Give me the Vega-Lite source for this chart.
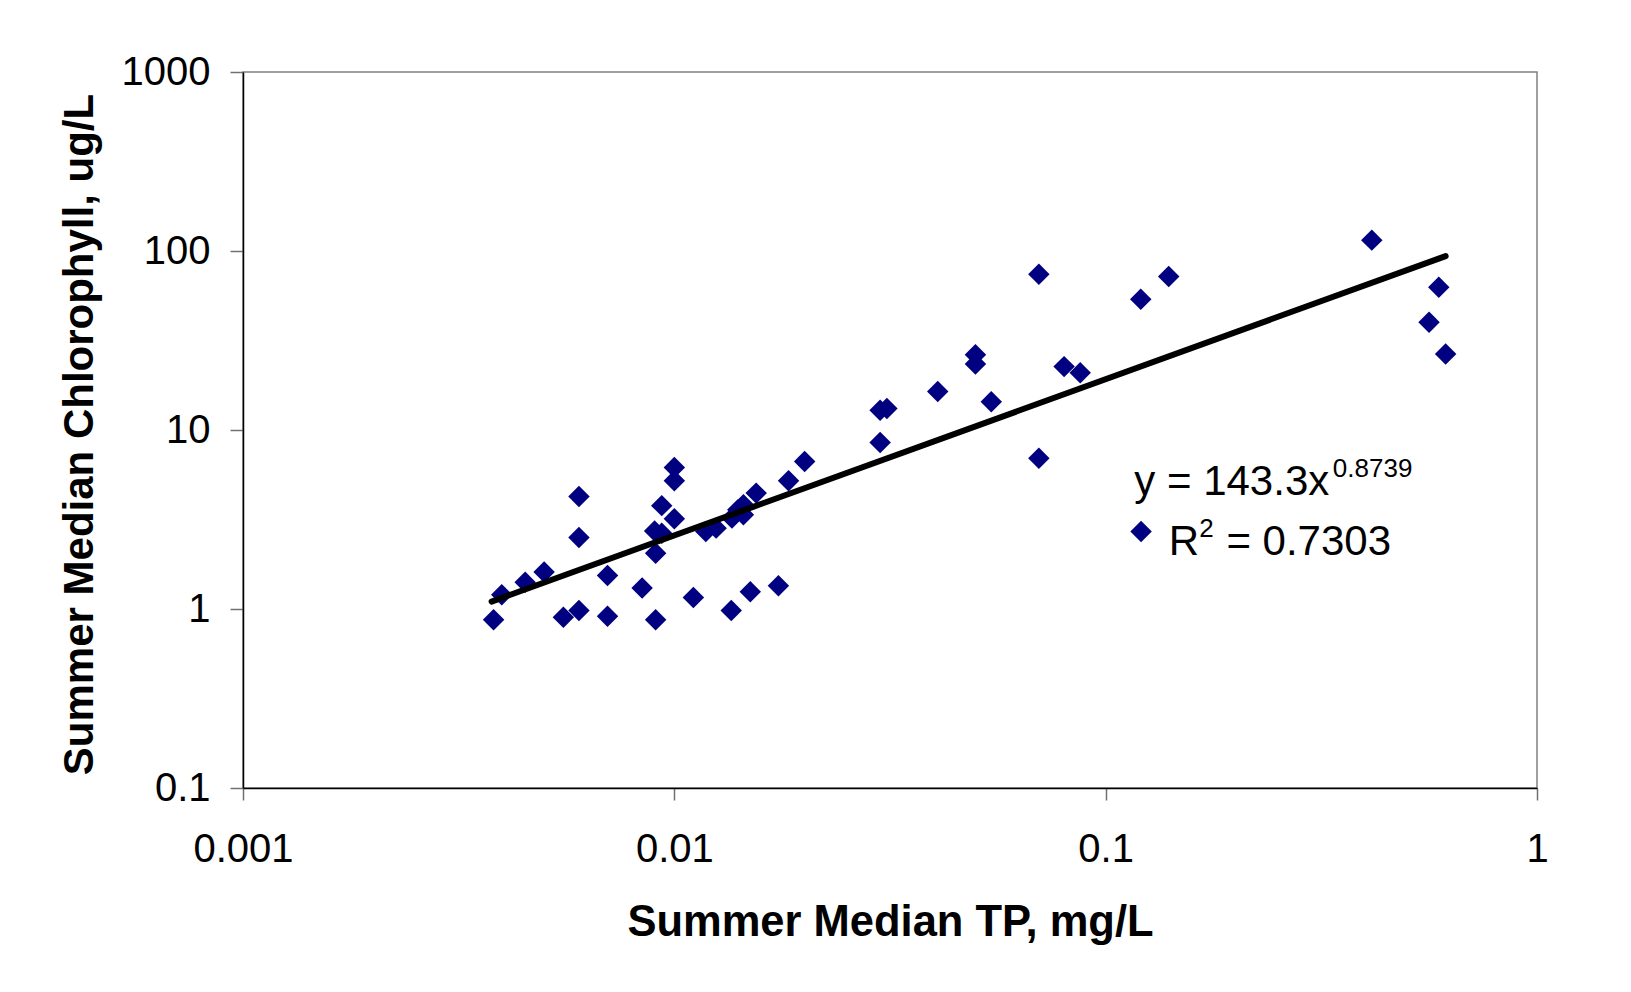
{
  "$schema": "https://vega.github.io/schema/vega-lite/v6.json",
  "width": 1294,
  "height": 716,
  "autosize": {"type": "none"},
  "padding": {"left": 243, "top": 72, "right": 94, "bottom": 204},
  "background": "white",
  "config": {
    "font": "Liberation Sans",
    "view": {"stroke": "#808080", "strokeWidth": 1.5},
    "axis": {
      "labelFont": "Liberation Sans",
      "titleFont": "Liberation Sans",
      "labelColor": "black",
      "titleColor": "black",
      "grid": false,
      "domainColor": "black",
      "domainWidth": 1.5,
      "tickColor": "#707070",
      "tickWidth": 1.5,
      "labelFontSize": 40,
      "titleFontSize": 42,
      "titleFontWeight": "bold",
      "labelOverlap": false,
      "labelFlush": false,
      "labelBound": false
    }
  },
  "datasets": {
    "points": [
      {"tp": 0.00381, "chl": 0.87},
      {"tp": 0.00398, "chl": 1.20},
      {"tp": 0.00451, "chl": 1.41},
      {"tp": 0.00499, "chl": 1.61},
      {"tp": 0.00553, "chl": 0.90},
      {"tp": 0.00601, "chl": 0.98},
      {"tp": 0.00601, "chl": 4.25},
      {"tp": 0.00601, "chl": 2.51},
      {"tp": 0.00700, "chl": 1.54},
      {"tp": 0.00700, "chl": 0.91},
      {"tp": 0.00842, "chl": 1.31},
      {"tp": 0.00905, "chl": 0.87},
      {"tp": 0.00905, "chl": 2.05},
      {"tp": 0.00900, "chl": 2.73},
      {"tp": 0.00935, "chl": 2.65},
      {"tp": 0.00935, "chl": 3.78},
      {"tp": 0.0100, "chl": 6.17},
      {"tp": 0.0100, "chl": 5.20},
      {"tp": 0.0100, "chl": 3.19},
      {"tp": 0.01107, "chl": 1.16},
      {"tp": 0.01183, "chl": 2.71},
      {"tp": 0.0125, "chl": 2.83},
      {"tp": 0.01355, "chl": 0.98},
      {"tp": 0.0136, "chl": 3.22},
      {"tp": 0.01403, "chl": 3.58},
      {"tp": 0.01446, "chl": 3.82},
      {"tp": 0.01446, "chl": 3.36},
      {"tp": 0.0150, "chl": 1.25},
      {"tp": 0.01548, "chl": 4.44},
      {"tp": 0.01743, "chl": 1.35},
      {"tp": 0.0184, "chl": 5.20},
      {"tp": 0.02005, "chl": 6.66},
      {"tp": 0.0300, "chl": 12.9},
      {"tp": 0.0311, "chl": 13.2},
      {"tp": 0.0300, "chl": 8.51},
      {"tp": 0.0408, "chl": 16.4},
      {"tp": 0.0499, "chl": 26.3},
      {"tp": 0.0499, "chl": 23.4},
      {"tp": 0.0543, "chl": 14.4},
      {"tp": 0.0700, "chl": 74.1},
      {"tp": 0.0700, "chl": 6.96},
      {"tp": 0.0801, "chl": 22.6},
      {"tp": 0.0873, "chl": 20.9},
      {"tp": 0.1206, "chl": 53.7},
      {"tp": 0.140, "chl": 72.1},
      {"tp": 0.414, "chl": 115},
      {"tp": 0.592, "chl": 62.7},
      {"tp": 0.562, "chl": 40.0},
      {"tp": 0.614, "chl": 26.6}
    ],
    "trend": [
      {"tp": 0.00377, "chl": 1.10},
      {"tp": 0.614, "chl": 93.7}
    ],
    "legendSymbol": [
      {"tp": 0.1208, "chl": 2.709}
    ],
    "bigText": [
      {"label": "y = 143.3x", "tp": 0.1165, "chl": 4.342},
      {"label": "R", "tp": 0.1401, "chl": 2.007},
      {"label": "= 0.7303", "tp": 0.1905, "chl": 2.007}
    ],
    "supText": [
      {"label": "0.8739", "tp": 0.3363, "chl": 5.473},
      {"label": "2", "tp": 0.1648, "chl": 2.530}
    ]
  },
  "layer": [
    {
      "data": {"name": "points"},
      "mark": {"type": "point", "shape": "diamond", "filled": true, "color": "#000080", "opacity": 1, "size": 460},
      "encoding": {
        "x": {
          "field": "tp", "type": "quantitative",
          "scale": {"type": "log", "domain": [0.001, 1], "nice": false},
          "axis": {
            "title": "Summer Median TP, mg/L",
            "values": [0.001, 0.01, 0.1, 1],
            "format": "~g",
            "tickSize": 12,
            "labelPadding": 29,
            "titleFontSize": 43.5,
            "titleBaseline": "alphabetic",
            "titleY": 147
          }
        },
        "y": {
          "field": "chl", "type": "quantitative",
          "scale": {"type": "log", "domain": [0.1, 1000], "nice": false},
          "axis": {
            "title": "Summer Median Chlorophyll, ug/L",
            "values": [0.1, 1, 10, 100, 1000],
            "format": "~g",
            "tickSize": 13,
            "labelPadding": 20,
            "titleBaseline": "alphabetic",
            "titleX": -151,
            "titleY": 362
          }
        }
      }
    },
    {
      "data": {"name": "trend"},
      "mark": {"type": "line", "color": "black", "strokeWidth": 6, "strokeCap": "round"},
      "encoding": {
        "x": {"field": "tp", "type": "quantitative"},
        "y": {"field": "chl", "type": "quantitative"}
      }
    },
    {
      "data": {"name": "legendSymbol"},
      "mark": {"type": "point", "shape": "diamond", "filled": true, "color": "#000080", "opacity": 1, "size": 460},
      "encoding": {
        "x": {"field": "tp", "type": "quantitative"},
        "y": {"field": "chl", "type": "quantitative"}
      }
    },
    {
      "data": {"name": "bigText"},
      "mark": {"type": "text", "align": "left", "baseline": "alphabetic", "fontSize": 42, "font": "Liberation Sans", "color": "black"},
      "encoding": {
        "x": {"field": "tp", "type": "quantitative"},
        "y": {"field": "chl", "type": "quantitative"},
        "text": {"field": "label"}
      }
    },
    {
      "data": {"name": "supText"},
      "mark": {"type": "text", "align": "left", "baseline": "alphabetic", "fontSize": 26, "font": "Liberation Sans", "color": "black"},
      "encoding": {
        "x": {"field": "tp", "type": "quantitative"},
        "y": {"field": "chl", "type": "quantitative"},
        "text": {"field": "label"}
      }
    }
  ]
}
